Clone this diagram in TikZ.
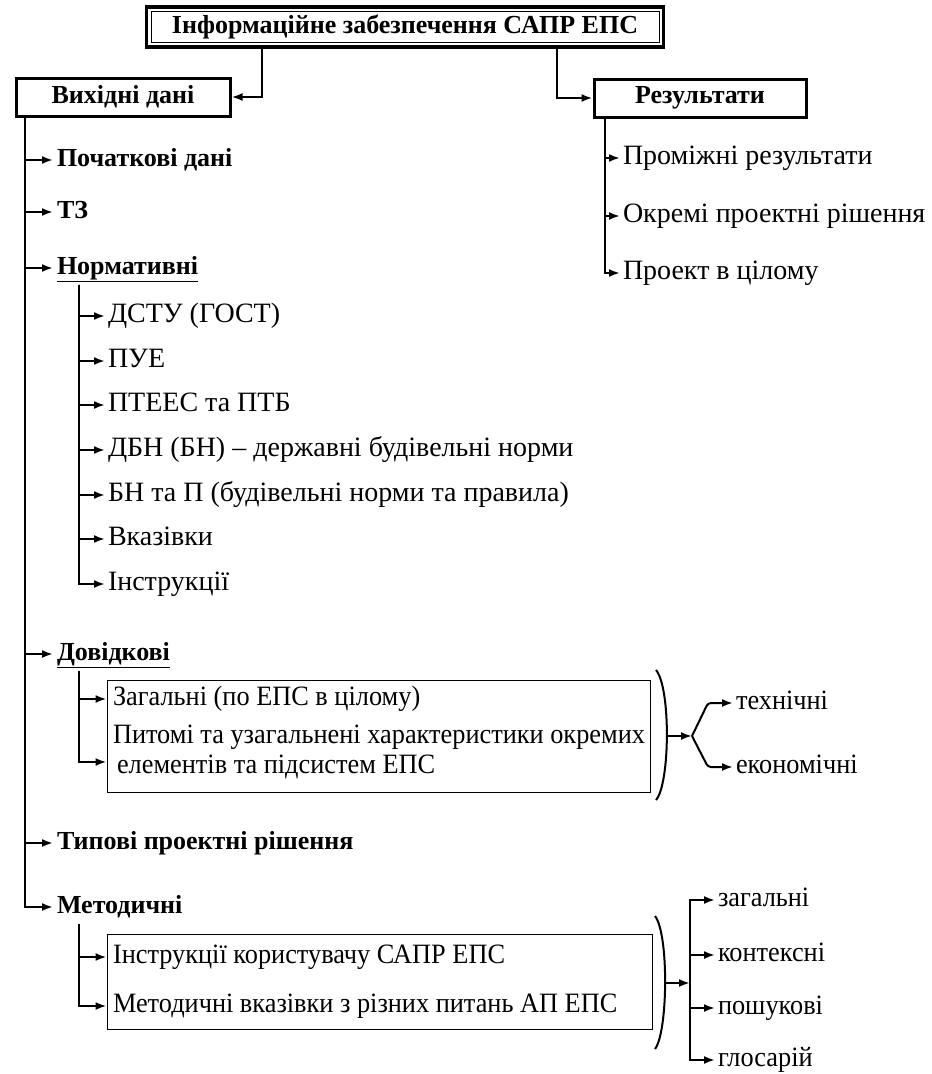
\documentclass[tikz,border=0pt]{standalone}
\usepackage{fontspec}
\setmainfont{Liberation Serif}
\newfontfamily\narrowfont{Liberation Serif}[FakeStretch=0.94]
\usetikzlibrary{arrows.meta,positioning,fit}

\begin{document}
\begin{tikzpicture}[x=1pt,y=-1pt,-{Latex[length=11pt,width=8pt]},
                    line width=2pt,font=\fontsize{28}{30}\selectfont]
  \tikzstyle{item}=[anchor=west,inner sep=2pt,text height=19pt,text depth=6pt]
  \tikzstyle{head}=[item,inner sep=3pt,font=\fontsize{26}{30}\selectfont\bfseries]
  \tikzstyle{boxed}=[item,font=\fontsize{28}{30}\selectfont\narrowfont]
  \tikzstyle{frame}=[draw,line width=3pt,minimum height=38pt,
                     font=\fontsize{26}{30}\selectfont\bfseries]
  \tikzstyle{group}=[draw,line width=1pt]
  \tikzstyle{elbow}=[to path={|- (\tikztotarget)}]
  \tikzstyle{fork}=[to path={-- ([xshift=-25pt]\tikztotarget.west) -- (\tikztotarget)}]
  \tikzstyle{brace}=[-,line width=2pt]

  \useasboundingbox (0,0) rectangle (932,1074);

  % top
  \node[draw,line width=1pt,minimum width=508pt,minimum height=30pt,
        font=\fontsize{26}{30}\selectfont\bfseries] (INFO) at (405,27)
        {Інформаційне забезпечення САПР ЕПС};
  \node[draw,line width=3.5pt,inner sep=4pt,fit=(INFO)] (INFOF) {};
  \node[frame,minimum width=214pt] (VD)  at (123,97) {Вихідні дані};
  \node[frame,minimum width=212pt] (REZ) at (700,98) {Результати};

  \draw ([xshift=-143pt]INFOF.south) |- (VD.east);
  \draw ([xshift=152pt]INFOF.south) |- (REZ.west);

  % left column
  \node[head] (POCH) at (53,160) {Початкові дані};
  \node[head] (TZ)   at (53,212) {ТЗ};
  \node[head] (NORM) at (53,268) {\underline{Нормативні}};
  \node[item] (N1) at (105,316) {ДСТУ (ГОСТ)};
  \node[item] (N2) at (105,361) {ПУЕ};
  \node[item] (N3) at (105,405) {ПТЕЕС та ПТБ};
  \node[item] (N4) at (105,450) {ДБН (БН) – державні будівельні норми};
  \node[item] (N5) at (105,495) {БН та П (будівельні норми та правила)};
  \node[item] (N6) at (105,539) {Вказівки};
  \node[item] (N7) at (105,584) {Інструкції};
  \node[head] (DOV) at (53,654) {\underline{Довідкові}};
  \node[group,minimum width=543pt,minimum height=112pt] (DBOX) at (378.5,736) {};
  \node[boxed] (D1) at (110,699) {Загальні (по ЕПС в цілому)};
  \node[boxed,align=left,text height=,text depth=] (D2) at (110,752)
        {Питомі та узагальнені характеристики окремих\\
         \hspace{4pt}елементів та підсистем ЕПС};
  \coordinate (D2A) at (110,762);
  \node[head] (TYP) at (53,843) {Типові проектні рішення};
  \node[head] (MET) at (53,907) {Методичні};
  \node[group,minimum width=545pt,minimum height=95pt] (MBOX) at (379.5,981.5) {};
  \node[boxed] (M1) at (110,957) {Інструкції користувачу САПР ЕПС};
  \node[boxed] (M2) at (110,1006) {Методичні вказівки з різних питань АП ЕПС};

  % right column
  \node[item] (R1) at (620,158) {Проміжні результати};
  \node[item] (R2) at (620,216) {Окремі проектні рішення};
  \node[item] (R3) at (620,273) {Проект в цілому};
  \node[boxed] (TEH)  at (733,703) {технічні};
  \node[boxed] (EKON) at (733,767) {економічні};
  \node[boxed] (Z1) at (715,900)  {загальні};
  \node[boxed] (Z2) at (715,955)  {контексні};
  \node[boxed] (Z3) at (715,1008) {пошукові};
  \node[boxed] (Z4) at (715,1060) {глосарій};

  \coordinate (T0) at ([xshift=10pt]VD.south west);
  \coordinate (T1) at ([xshift=26pt]NORM.south west);
  \coordinate (T2) at ([xshift=26pt]DOV.south west);
  \coordinate (T3) at ([xshift=26pt]MET.south west);
  \coordinate (T4) at ([xshift=12pt]REZ.south west);
  \coordinate (BT1) at (668,736);
  \coordinate (F1)  at (692,736);
  \coordinate (BT2) at (666,983);
  \coordinate (F2)  at (690,983);

  \path (T0) edge[elbow] (POCH) edge[elbow] (TZ) edge[elbow] (NORM)
             edge[elbow] (DOV) edge[elbow] (TYP) edge[elbow] (MET);
  \path (T1) edge[elbow] (N1) edge[elbow] (N2) edge[elbow] (N3) edge[elbow] (N4)
             edge[elbow] (N5) edge[elbow] (N6) edge[elbow] (N7);
  \path (T2) edge[elbow] (DBOX.west |- D1) edge[elbow] (DBOX.west |- D2A);
  \path (T3) edge[elbow] (MBOX.west |- M1) edge[elbow] (MBOX.west |- M2);
  \path (T4) edge[elbow] (R1) edge[elbow] (R2) edge[elbow] (R3);

  % braces and forks
  \draw[brace] (656,670) .. controls (671,688) and (670,784) .. (656,800);
  \draw[brace] (655,916) .. controls (669,934) and (668,1032) .. (655,1049);
  \draw (BT1) -- (F1);
  \path[rounded corners=3pt] (F1) edge[fork] (TEH) edge[fork] (EKON);
  \draw (BT2) -- (F2);
  \path (F2) edge[elbow] (Z1) edge[elbow] (Z2) edge[elbow] (Z3) edge[elbow] (Z4);
\end{tikzpicture}
\end{document}
